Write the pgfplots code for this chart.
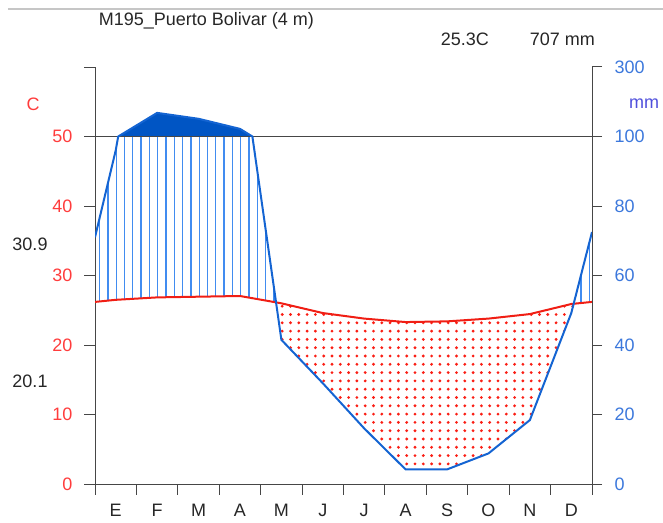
\documentclass[border=0pt]{standalone}
\usepackage{pgfplots}
\pgfplotsset{compat=1.18}
\usepackage{pgfplotstable}
\usepgfplotslibrary{fillbetween}
\usetikzlibrary{patterns.meta}
\usepackage{fontspec}
\setmainfont{Liberation Sans}

\definecolor{tred}{RGB}{240,30,20}
\definecolor{dotred}{RGB}{250,30,20}
\definecolor{lred}{RGB}{255,60,60}
\definecolor{pblue}{RGB}{20,100,210}
\definecolor{dblue}{RGB}{0,85,196}
\definecolor{hblue}{RGB}{65,140,240}
\definecolor{lblue}{RGB}{60,120,220}
\definecolor{mmblue}{RGB}{80,80,220}
\definecolor{axgray}{RGB}{70,70,70}

% monthly mean temperature (C), month centres at 0.5..11.5, edges at 0 and 12
\pgfplotstableread{
x t
0 26.2
0.5 26.5
1.5 26.85
2.5 26.95
3.5 27.05
4.5 26.0
5.5 24.6
6.5 23.8
7.5 23.3
8.5 23.4
9.5 23.8
10.5 24.45
11.5 25.9
12 26.2
}\tempdata

% monthly precipitation (mm), with the two points where the curve crosses 100 mm
\pgfplotstableread{
x p
0 71
0.5 96
0.56 100
1.5 168
2.5 151
3.5 122
3.8 100
4.5 41.5
5.5 29
6.5 16
7.5 4.2
8.5 4.2
9.5 8.8
10.5 18.4
11.5 49.2
12 72.5
}\precdata

\begin{document}
\begin{tikzpicture}[font=\fontsize{10.8}{13}\selectfont]
\begin{axis}[
  at={(0,0)}, anchor=south west, scale only axis,
  width=298.2pt, height=250.2pt,
  xmin=0, xmax=12, ymin=0, ymax=60,
  axis x line*=bottom, axis y line*=left,
  axis line style={-, draw=axgray, line width=0.6pt},
  tick style={draw=axgray, line width=0.6pt},
  tick align=outside, major tick length=6.5pt,
  xtick={0,...,12}, xticklabels={E,F,M,A,M,J,J,A,S,O,N,D,{}},
  xticklabel style={xshift=12.43pt, yshift=-2pt, text=black!85},
  ytick={0,10,...,60}, yticklabels={0,10,20,30,40,50,{}},
  yticklabel style={text=lred, xshift=-3.5pt},
  /pgf/number format/assume math mode=true,
]
\addplot[draw=none, name path=prec] table[x=x, y expr={\thisrow{p}>100 ? 50+(\thisrow{p}-100)/20 : \thisrow{p}/2}] {\precdata};
\addplot[draw=none, name path=capp] table[x=x, y expr={min(\thisrow{p},100)/2}] {\precdata};
\addplot[draw=none, name path=temp] table[x=x, y=t] {\tempdata};
\addplot[draw=none, name path=fifty] coordinates {(0,50) (12,50)};

\addplot[draw=none, pattern={Lines[angle=90,distance=4.98pt,line width=0.8pt]}, pattern color=hblue]
  fill between[of=capp and temp, split,
    every segment no 1/.style={pattern={Dots[distance=4.98pt,radius=0.95pt]}, pattern color=dotred}];
\addplot[draw=none, fill=dblue] fill between[of=prec and fifty, soft clip={domain=0.56:3.8}];

\addplot[draw=axgray, line width=0.6pt] coordinates {(0,50) (12,50)};
\addplot[tred, line width=1.2pt] table[x=x, y=t] {\tempdata};
\addplot[pblue, line width=1.2pt] table[x=x, y expr={\thisrow{p}>100 ? 50+(\thisrow{p}-100)/20 : \thisrow{p}/2}] {\precdata};
\end{axis}

\begin{axis}[
  at={(0,0)}, anchor=south west, scale only axis,
  width=298.2pt, height=250.2pt,
  xmin=0, xmax=12, ymin=0, ymax=120,
  axis x line=none, axis y line*=right,
  axis line style={-, draw=axgray, line width=0.6pt},
  tick style={draw=axgray, line width=0.6pt},
  tick align=outside, major tick length=6pt,
  ytick={0,20,...,120}, yticklabels={0,20,40,60,80,100,300},
  yticklabel style={text=lblue, xshift=4pt},
]
\addplot[draw=none] coordinates {(0,0) (12,120)};
\end{axis}

\begin{scope}[x=0.6pt, y=-0.6pt, shift={(-57pt,290.4pt)}]
\draw[gray!45, line width=1.2pt] (8,9) -- (663,9);
\node[anchor=west, text=black!85] at (93,21) {M195\_Puerto Bolivar (4 m)};
\node[anchor=west, text=black!85] at (435,39) {25.3C};
\node[anchor=west, text=black!85] at (524,39) {707 mm};
\node[text=lred] at (33,104) {C};
\node[text=mmblue] at (644,104) {mm};
\node[text=black!85] at (30,244) {30.9};
\node[text=black!85] at (30,381) {20.1};
\end{scope}
\pgfresetboundingbox
\useasboundingbox (-57pt,-22.8pt) rectangle (340.8pt,290.4pt);
\end{tikzpicture}
\end{document}
